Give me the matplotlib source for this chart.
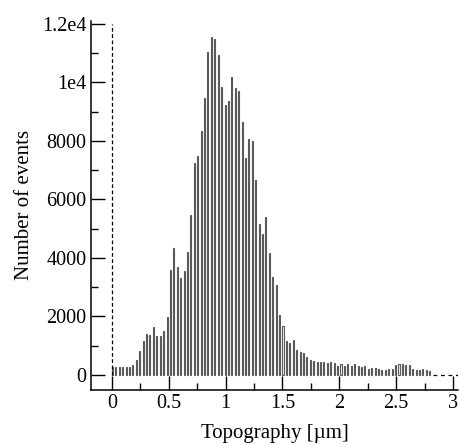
import matplotlib
matplotlib.use("Agg")
import matplotlib.pyplot as plt
import numpy as np
from matplotlib.ticker import FixedLocator, MultipleLocator

# Histogram of topography heights, bins of 0.03 um starting at 0
bin_width = 0.03
counts = [
    260, 260, 270, 270, 280, 290, 330, 510, 830, 1160,
    1400, 1370, 1650, 1330, 1330, 1520, 1990, 3590, 4330, 3700,
    3330, 3540, 4200, 5470, 7260, 7490, 8350, 9460, 11050, 11540,
    11490, 10950, 9830, 9230, 9380, 10190, 9800, 9720, 8660, 7410,
    8060, 8010, 6670, 5160, 4810, 5390, 4160, 3360, 3080, 2050,
    1680, 1170, 1100, 1200, 850, 770, 750, 620, 520, 470,
    460, 440, 440, 400, 440, 420, 320, 380, 310, 370,
    310, 370, 310, 290, 320, 200, 230, 250, 190, 180,
    170, 190, 200, 330, 360, 370, 340, 330, 190, 180,
    170, 190, 160, 150,
]
y_ticks = [0, 2000, 4000, 6000, 8000, 10000, 12000]
y_tick_labels = ["0", "2000", "4000", "6000", "8000", "1e4", "1.2e4"]
x_ticks = [0, 0.5, 1, 1.5, 2, 2.5, 3]
x_tick_labels = ["0", "0.5", "1", "1.5", "2", "2.5", "3"]

plt.rcParams["font.family"] = ["Liberation Serif", "DejaVu Serif"]

fig = plt.figure(figsize=(4.59, 4.45), dpi=100)
ax = fig.add_axes([0.198, 0.1236, 0.80, 0.83])

lefts = np.arange(len(counts)) * bin_width
ax.bar(lefts, counts, width=0.009, align="edge", facecolor="#f4f4f4",
       edgecolor="#5a5a5a", linewidth=0.8)

# dashed reference lines at x=0 and beyond the last filled bin
ax.plot([0, 0], [0, 12000], color="black", linestyle=(0, (3, 2)), linewidth=0.9)
end = lefts[-1] + bin_width
ax.plot([end, 3.04], [0, 0], color="black", linestyle=(0, (3, 3)), linewidth=0.9)

ax.set_xlim(-0.185, 3.044)
ax.set_ylim(-513, 12113)

ax.spines["top"].set_visible(False)
ax.spines["right"].set_visible(False)
for side in ("left", "bottom"):
    ax.spines[side].set_linewidth(1.1)

ax.xaxis.set_major_locator(FixedLocator(x_ticks))
ax.set_xticklabels(x_tick_labels)
ax.xaxis.set_minor_locator(MultipleLocator(0.25))
ax.yaxis.set_major_locator(FixedLocator(y_ticks))
ax.set_yticklabels(y_tick_labels)
ax.yaxis.set_minor_locator(MultipleLocator(1000))

ax.tick_params(which="major", direction="in", length=10, width=1.0,
               labelsize=14.5, pad=3)
ax.tick_params(which="minor", direction="in", length=5, width=1.0)

ax.set_xlabel("Topography [µm]", fontsize=15, labelpad=8)
ax.set_ylabel("Number of events", fontsize=15, labelpad=6)

fig.savefig("out.png", dpi=100)
